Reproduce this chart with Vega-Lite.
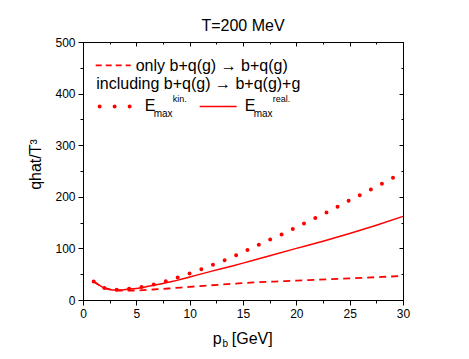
{
  "$schema": "https://vega.github.io/schema/vega-lite/v6.json",
  "width": 320,
  "height": 258,
  "autosize": "none",
  "padding": {"left": 83, "top": 42, "right": 66, "bottom": 59},
  "title": {"text": "T=200 MeV", "fontSize": 16, "font": "Liberation Sans", "fontWeight": "normal", "color": "#000", "frame": "group", "baseline": "alphabetic", "offset": 12, "dy": 23},
  "config": {
    "view": {"stroke": "#000", "strokeWidth": 1},
    "axis": {"domainColor": "#000", "tickColor": "#000", "labelColor": "#000", "labelFont": "Liberation Sans", "labelFontSize": 12, "grid": false, "titleColor": "#000"},
    "text": {"font": "Liberation Sans", "color": "#000", "align": "left", "baseline": "alphabetic"}
  },
  "datasets": {
    "curves": [
      {"series": "real", "p": 1, "q": 36}, {"series": "real", "p": 1.5, "q": 29}, {"series": "real", "p": 2, "q": 23.5}, {"series": "real", "p": 2.5, "q": 20.5}, {"series": "real", "p": 3, "q": 19.5}, {"series": "real", "p": 3.5, "q": 19.5}, {"series": "real", "p": 4, "q": 20.5}, {"series": "real", "p": 5, "q": 22.5}, {"series": "real", "p": 6, "q": 26}, {"series": "real", "p": 7, "q": 30}, {"series": "real", "p": 8, "q": 34.5}, {"series": "real", "p": 9, "q": 39}, {"series": "real", "p": 10, "q": 44.5}, {"series": "real", "p": 12, "q": 55.5}, {"series": "real", "p": 14, "q": 66}, {"series": "real", "p": 15, "q": 71.5}, {"series": "real", "p": 17, "q": 83}, {"series": "real", "p": 20, "q": 100}, {"series": "real", "p": 22.5, "q": 114}, {"series": "real", "p": 25, "q": 129}, {"series": "real", "p": 27.5, "q": 145}, {"series": "real", "p": 30, "q": 162},
      {"series": "kin", "p": 1, "q": 36}, {"series": "kin", "p": 1.5, "q": 29}, {"series": "kin", "p": 2, "q": 23.5}, {"series": "kin", "p": 2.5, "q": 21}, {"series": "kin", "p": 3, "q": 20}, {"series": "kin", "p": 3.5, "q": 20}, {"series": "kin", "p": 4, "q": 21}, {"series": "kin", "p": 4.8, "q": 23.3}, {"series": "kin", "p": 6, "q": 26.8}, {"series": "kin", "p": 7.2, "q": 33}, {"series": "kin", "p": 8.4, "q": 40.5}, {"series": "kin", "p": 9.6, "q": 49}, {"series": "kin", "p": 10.8, "q": 57}, {"series": "kin", "p": 11.9, "q": 66.3}, {"series": "kin", "p": 13.1, "q": 75.5}, {"series": "kin", "p": 14.3, "q": 86}, {"series": "kin", "p": 15.4, "q": 96.5}, {"series": "kin", "p": 16.5, "q": 107}, {"series": "kin", "p": 17.6, "q": 117.6}, {"series": "kin", "p": 18.8, "q": 128.7}, {"series": "kin", "p": 19.9, "q": 140}, {"series": "kin", "p": 21.05, "q": 151.8}, {"series": "kin", "p": 22.2, "q": 162.8}, {"series": "kin", "p": 23.3, "q": 174.5}, {"series": "kin", "p": 24.4, "q": 186.8}, {"series": "kin", "p": 25.5, "q": 198.4}, {"series": "kin", "p": 26.6, "q": 210}, {"series": "kin", "p": 27.7, "q": 221.8}, {"series": "kin", "p": 28.8, "q": 234}, {"series": "kin", "p": 30, "q": 246.5},
      {"series": "only", "p": 1, "q": 36}, {"series": "only", "p": 1.5, "q": 29}, {"series": "only", "p": 2, "q": 23.5}, {"series": "only", "p": 2.5, "q": 20.5}, {"series": "only", "p": 3, "q": 19}, {"series": "only", "p": 4, "q": 18}, {"series": "only", "p": 5, "q": 18.5}, {"series": "only", "p": 6, "q": 19.5}, {"series": "only", "p": 7, "q": 21}, {"series": "only", "p": 8, "q": 22.3}, {"series": "only", "p": 10, "q": 25.5}, {"series": "only", "p": 12, "q": 28.5}, {"series": "only", "p": 14, "q": 31.5}, {"series": "only", "p": 16, "q": 34}, {"series": "only", "p": 18, "q": 35.8}, {"series": "only", "p": 20, "q": 37.5}, {"series": "only", "p": 22, "q": 39.3}, {"series": "only", "p": 25, "q": 42}, {"series": "only", "p": 28, "q": 44.7}, {"series": "only", "p": 30, "q": 46.5}
    ]
  },
  "resolve": {"axis": {"x": "independent", "y": "independent"}},
  "layer": [
    {
      "data": {"name": "curves"},
      "transform": [{"filter": "datum.series === 'real'"}],
      "mark": {"type": "line", "color": "#ff0000", "strokeWidth": 1.5, "interpolate": "monotone"},
      "encoding": {
        "x": {"field": "p", "type": "quantitative", "scale": {"domain": [0, 30], "nice": false},
          "axis": {"orient": "bottom", "title": null, "values": [0, 2.5, 5, 7.5, 10, 12.5, 15, 17.5, 20, 22.5, 25, 27.5, 30], "labelExpr": "datum.value % 5 === 0 ? datum.label : ''", "tickSize": {"condition": {"test": "datum.value % 5 === 0", "value": 5}, "value": 3}, "labelPadding": 3, "labelFlush": false}},
        "y": {"field": "q", "type": "quantitative", "scale": {"domain": [0, 500], "nice": false},
          "axis": {"orient": "left", "title": "qhat/T³", "titleFontSize": 16, "titleFont": "Liberation Sans", "titleFontWeight": "normal", "titleX": -48, "titleY": 122, "titleAngle": 270, "titleAlign": "center", "titleBaseline": "middle", "values": [0, 50, 100, 150, 200, 250, 300, 350, 400, 450, 500], "labelExpr": "datum.value % 100 === 0 ? datum.label : ''", "tickSize": {"condition": {"test": "datum.value % 100 === 0", "value": 5}, "value": 3}, "labelPadding": 3, "labelFlush": false}}
      }
    },
    {
      "data": {"name": "curves"},
      "transform": [{"filter": "datum.series === 'only'"}],
      "mark": {"type": "line", "color": "#ff0000", "strokeWidth": 1.8, "strokeDash": [7, 5], "interpolate": "monotone"},
      "encoding": {
        "x": {"field": "p", "type": "quantitative",
          "axis": {"orient": "top", "title": null, "labels": false, "values": [0, 2.5, 5, 7.5, 10, 12.5, 15, 17.5, 20, 22.5, 25, 27.5, 30], "tickSize": {"condition": {"test": "datum.value % 5 === 0", "value": -4}, "value": -2}}},
        "y": {"field": "q", "type": "quantitative",
          "axis": {"orient": "right", "title": null, "labels": false, "values": [0, 50, 100, 150, 200, 250, 300, 350, 400, 450, 500], "tickSize": {"condition": {"test": "datum.value % 100 === 0", "value": -4}, "value": -2}}}
      }
    },
    {
      "data": {"name": "curves"},
      "transform": [{"filter": "datum.series === 'kin'"}],
      "mark": {"type": "line", "color": "#ff0000", "strokeWidth": 4, "strokeDash": [0, 12.5], "strokeCap": "round", "interpolate": "monotone"},
      "encoding": {
        "x": {"field": "p", "type": "quantitative", "axis": null},
        "y": {"field": "q", "type": "quantitative", "axis": null}
      }
    },
    {
      "data": {"values": [{"k": "only"}]},
      "mark": {"type": "rule", "color": "#ff0000", "strokeWidth": 1.8, "strokeDash": [6, 4]},
      "encoding": {"x": {"datum": 1.19, "type": "quantitative", "axis": null}, "x2": {"datum": 4.47}, "y": {"datum": 454.7, "type": "quantitative", "axis": null}}
    },
    {
      "data": {"values": [{"k": "kin"}]},
      "mark": {"type": "rule", "color": "#ff0000", "strokeWidth": 4, "strokeDash": [0, 15], "strokeCap": "round"},
      "encoding": {"x": {"datum": 1.56, "type": "quantitative", "axis": null}, "x2": {"datum": 4.38}, "y": {"datum": 375.2, "type": "quantitative", "axis": null}}
    },
    {
      "data": {"values": [{"k": "real"}]},
      "mark": {"type": "rule", "color": "#ff0000", "strokeWidth": 1.5},
      "encoding": {"x": {"datum": 10.94, "type": "quantitative", "axis": null}, "x2": {"datum": 14.41}, "y": {"datum": 375.2, "type": "quantitative", "axis": null}}
    },
    {
      "data": {"values": [{"label": "only b+q(g) → b+q(g)"}]},
      "mark": {"type": "text", "fontSize": 16},
      "encoding": {"text": {"field": "label"}, "x": {"datum": 4.94, "type": "quantitative", "axis": null}, "y": {"datum": 443.1, "type": "quantitative", "axis": null}}
    },
    {
      "data": {"values": [{"label": "including b+q(g) → b+q(g)+g"}]},
      "mark": {"type": "text", "fontSize": 16},
      "encoding": {"text": {"field": "label"}, "x": {"datum": 1.24, "type": "quantitative", "axis": null}, "y": {"datum": 408.5, "type": "quantitative", "axis": null}}
    },
    {
      "data": {"values": [{"label": "E"}]},
      "mark": {"type": "text", "fontSize": 16},
      "encoding": {"text": {"field": "label"}, "x": {"datum": 5.78, "type": "quantitative", "axis": null}, "y": {"datum": 365.5, "type": "quantitative", "axis": null}}
    },
    {
      "data": {"values": [{"label": "max"}]},
      "mark": {"type": "text", "fontSize": 10},
      "encoding": {"text": {"field": "label"}, "x": {"datum": 6.63, "type": "quantitative", "axis": null}, "y": {"datum": 354.8, "type": "quantitative", "axis": null}}
    },
    {
      "data": {"values": [{"label": "kin."}]},
      "mark": {"type": "text", "fontSize": 9},
      "encoding": {"text": {"field": "label"}, "x": {"datum": 8.41, "type": "quantitative", "axis": null}, "y": {"datum": 383.9, "type": "quantitative", "axis": null}}
    },
    {
      "data": {"values": [{"label": "E"}]},
      "mark": {"type": "text", "fontSize": 16},
      "encoding": {"text": {"field": "label"}, "x": {"datum": 15.16, "type": "quantitative", "axis": null}, "y": {"datum": 365.5, "type": "quantitative", "axis": null}}
    },
    {
      "data": {"values": [{"label": "max"}]},
      "mark": {"type": "text", "fontSize": 10},
      "encoding": {"text": {"field": "label"}, "x": {"datum": 16.0, "type": "quantitative", "axis": null}, "y": {"datum": 354.8, "type": "quantitative", "axis": null}}
    },
    {
      "data": {"values": [{"label": "real."}]},
      "mark": {"type": "text", "fontSize": 9},
      "encoding": {"text": {"field": "label"}, "x": {"datum": 17.78, "type": "quantitative", "axis": null}, "y": {"datum": 383.9, "type": "quantitative", "axis": null}}
    },
    {
      "data": {"values": [{"label": "p"}]},
      "mark": {"type": "text", "fontSize": 16},
      "encoding": {"text": {"field": "label"}, "x": {"datum": 12.16, "type": "quantitative", "axis": null}, "y": {"datum": -85.8, "type": "quantitative", "axis": null}}
    },
    {
      "data": {"values": [{"label": "b"}]},
      "mark": {"type": "text", "fontSize": 10},
      "encoding": {"text": {"field": "label"}, "x": {"datum": 13.07, "type": "quantitative", "axis": null}, "y": {"datum": -90.6, "type": "quantitative", "axis": null}}
    },
    {
      "data": {"values": [{"label": "[GeV]"}]},
      "mark": {"type": "text", "fontSize": 16},
      "encoding": {"text": {"field": "label"}, "x": {"datum": 13.95, "type": "quantitative", "axis": null}, "y": {"datum": -85.8, "type": "quantitative", "axis": null}}
    }
  ]
}
